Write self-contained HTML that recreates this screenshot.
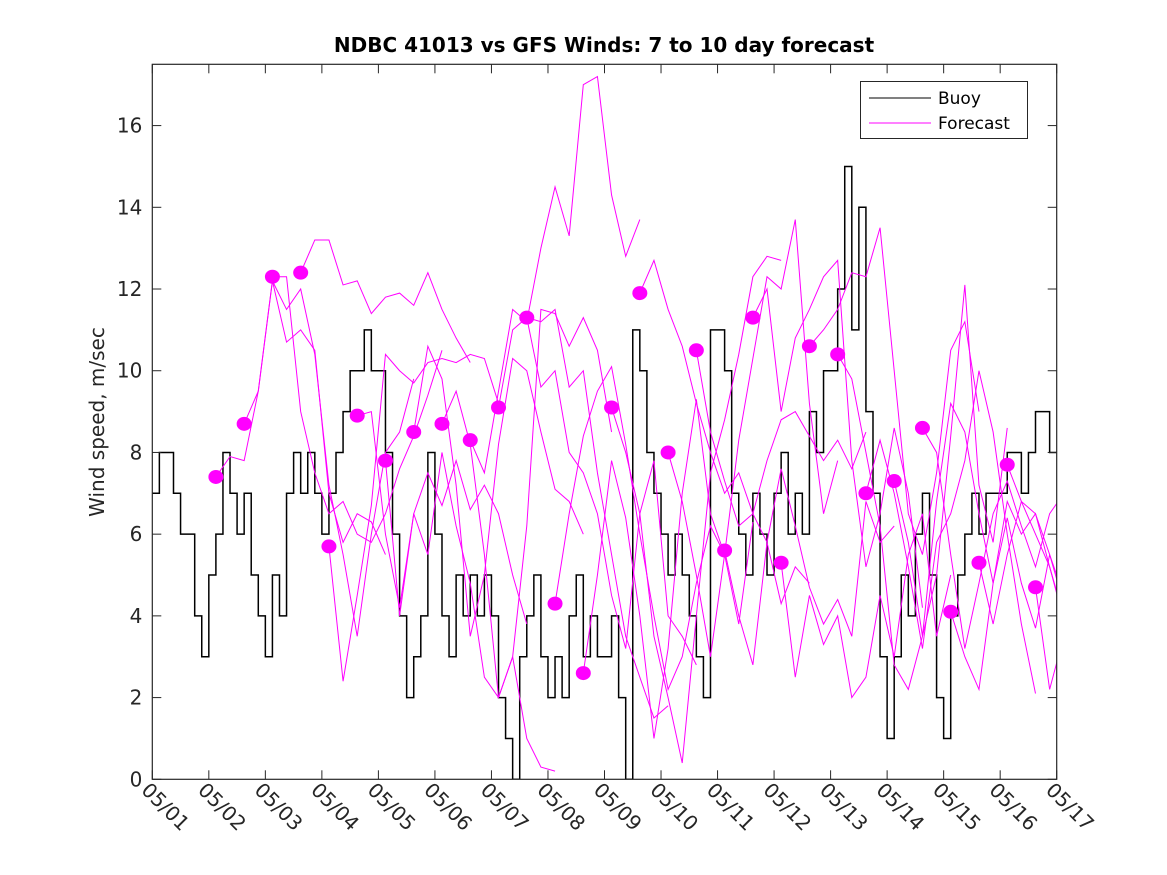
<!DOCTYPE html>
<html><head><meta charset="utf-8"><style>
body{margin:0;background:#fff;}
svg{display:block;font-family:"DejaVu Sans","Liberation Sans",sans-serif;}
</style></head><body>
<svg id="chart" width="1167" height="875">
<rect width="1167" height="875" fill="#fff"/>
<text x="604" y="52" text-anchor="middle" font-weight="bold" font-size="20" fill="#000">NDBC 41013 vs GFS Winds: 7 to 10 day forecast</text>
<text transform="translate(104,422) rotate(-90)" text-anchor="middle" font-size="20" fill="#262626">Wind speed, m/sec</text>
<g id="plot"></g>
<g id="axes"></g>
<g>
<rect x="860.5" y="81.5" width="167" height="57" fill="#fff" stroke="#262626" stroke-width="1"/>
<line x1="869" y1="98" x2="931" y2="98" stroke="#000"/>
<text x="938" y="104" font-size="17" fill="#000">Buoy</text>
<line x1="869" y1="123" x2="931" y2="123" stroke="#f0f"/>
<text x="938" y="129" font-size="17" fill="#000">Forecast</text>
</g>
</svg>
<script>
const yTicks=[0,2,4,6,8,10,12,14,16];
const xTickLabels=["05/01","05/02","05/03","05/04","05/05","05/06","05/07","05/08","05/09","05/10","05/11","05/12","05/13","05/14","05/15","05/16","05/17"];
// buoy wind speed, 3-hourly from 05/01 00Z
const buoy=[7,8,8,7,6,6,4,3, 5,6,8,7,6,7,5,4, 3,5,4,7,8,7,8,7, 6,7,8,9,10,10,11,10,
 10,8,6,4,2,3,4,8, 6,4,3,5,4,5,4,5, 4,2,1,0,3,4,5,3, 2,3,2,4,5,3,4,3,
 3,4,2,0,11,10,8,7, 6,5,6,5,4,3,2,11, 11,10,7,6,5,7,6,5, 7,8,6,7,6,9,8,10,
 10,12,15,11,14,9,7,3, 1,3,5,4,6,7,5,2, 1,4,5,6,7,6,7,7, 7,8,8,7,8,9,9,8, 8];
// forecast start days and 6-hourly values (lead 7-10 days)
const fcStart=[1.125,1.625,2.125,2.625,3.125,3.625,4.125,4.625,5.125,5.625,6.125,6.625,7.125,7.625,8.125,8.625,9.125,9.625,10.125,10.625,11.125,11.625,12.125,12.625,13.125,13.625,14.125,14.625,15.125,15.625];
const fcValues=[
[7.4,7.9,7.8,9.5,12.2,10.7,11.0,10.5,7.0,5.8,6.5,6.3,5.5],
[8.7,9.5,12.2,11.5,12.0,10.4,7.2,5.5,3.5,6.0,8.0,8.5,9.8],
[12.3,12.3,9.0,7.5,6.5,6.8,6.0,5.8,6.5,7.6,8.4,9.4,10.5],
[12.4,13.2,13.2,12.1,12.2,11.4,11.8,11.9,11.6,12.4,11.5,10.8,10.2],
[5.7,2.4,4.5,6.7,10.4,10.0,9.7,10.2,10.3,10.2,10.4,10.3,9.2],
[8.9,9.0,6.0,4.2,6.5,7.5,6.7,7.8,6.6,7.2,6.5,5.0,3.8],
[7.8,4.0,6.5,5.5,8.0,6.2,4.8,2.5,2.0,3.0,1.0,0.3,0.2],
[8.5,10.6,9.8,7.2,3.5,5.0,8.2,10.3,10.0,8.5,7.1,6.8,6.0],
[8.7,9.5,8.2,5.5,2.0,3.0,6.2,11.5,11.4,10.6,11.3,10.5,8.5],
[8.3,7.5,9.5,11.5,11.2,13.0,14.5,13.3,17.0,17.2,14.3,12.8,13.7],
[9.1,11.0,11.3,11.2,11.5,9.6,10.0,7.5,5.5,3.5,2.5,1.5,1.8],
[11.3,9.6,10.0,8.0,7.5,6.5,4.5,3.2,6.5,7.8,4.0,3.5,2.8],
[4.3,6.5,8.4,9.5,10.1,8.2,6.0,4.0,2.2,3.0,4.8,6.2,5.5],
[2.6,5.0,7.8,6.4,4.0,1.0,3.2,7.0,9.3,6.5,5.5,3.8,6.3],
[9.1,8.0,6.5,3.5,2.0,0.4,4.0,7.5,8.8,10.4,12.3,12.8,12.7],
[11.9,12.7,11.5,10.6,9.2,8.0,7.0,7.5,6.5,5.8,4.3,5.2,4.8],
[8.0,6.8,5.0,3.0,5.5,8.3,10.3,12.3,12.0,13.7,9.2,6.5,7.8],
[10.5,8.5,7.3,6.2,6.5,7.8,8.8,9.0,8.4,7.8,8.3,7.6,8.5],
[5.6,4.0,2.8,5.8,7.6,6.2,4.7,3.8,4.4,3.5,6.8,5.8,6.2],
[11.3,12.0,9.0,10.8,11.5,12.3,12.7,7.8,5.2,6.5,8.6,7.0,4.2],
[5.3,2.5,4.5,3.3,4.0,2.0,2.5,4.5,3.0,5.5,6.5,3.5,5.0],
[10.6,11.0,11.5,12.4,12.3,13.5,10.0,6.5,5.5,7.5,10.5,11.2,9.0],
[10.4,9.8,8.0,6.2,2.8,2.2,3.5,5.0,8.4,12.1,7.2,5.8,8.6],
[7.0,8.3,7.0,5.2,3.2,5.8,6.5,7.8,10.0,8.5,6.0,3.8,2.1],
[7.3,5.8,3.5,6.8,9.2,8.5,6.5,4.8,6.4,4.8,3.7,5.5,4.3],
[8.6,8.0,5.5,3.2,4.8,6.5,7.3,6.2,5.2,6.5,7.0,5.5,4.0],
[4.1,3.0,2.2,4.8,6.8,6.0,6.5,5.2,3.9,5.8,6.8,6.0,5.5],
[5.3,3.8,5.5,6.8,6.0,5.2,4.0,5.8,7.0,6.2,5.5,5.8,6.0],
[7.7,6.8,6.5,5.5,4.5,6.2,7.0,7.3,7.0,6.8,7.5,7.9,7.5],
[4.7,2.2,3.5,4.8,6.5,5.0,3.2,1.2,2.0,1.2,3.8,5.0,6.3]
];
const X0=152.3,X1=1056.7,Y0=779.3,Y1=64.3,XMAX=16,YMAX=17.5;
const xs=d=>X0+(X1-X0)*d/XMAX;
const ys=v=>Y0-(Y0-Y1)*v/YMAX;
const NS="http://www.w3.org/2000/svg";
const plot=document.getElementById('plot'),axes=document.getElementById('axes');
function mk(tag,attrs,parent){const e=document.createElementNS(NS,tag);for(const k in attrs)e.setAttribute(k,attrs[k]);parent.appendChild(e);return e;}
const defs=mk('defs',{},plot);const cp=mk('clipPath',{id:'clip'},defs);
mk('rect',{x:X0,y:Y1,width:X1-X0,height:Y0-Y1},cp);
const g=mk('g',{'clip-path':'url(#clip)'},plot);
let d='';
buoy.forEach((v,i)=>{const x=xs(i/8),y=ys(v);if(i===0)d+=`M${x},${y}`;else d+=`H${x}V${y}`;});
const bl=mk('path',{d:d,fill:'none',stroke:'#000','stroke-width':1.5},g);


fcValues.forEach((vals,k)=>{
  const s=fcStart[k];
  const pts=vals.map((v,j)=>xs(s+j*0.25)+','+ys(v)).join(' ');
  const pl=mk('polyline',{points:pts,fill:'none',stroke:'#f0f','stroke-width':1},g);
  
  
});
fcValues.forEach((vals,k)=>{
  const c=mk('ellipse',{cx:xs(fcStart[k]),cy:ys(vals[0]),rx:7.5,ry:7,fill:'#f0f'},plot);
  
  
});
const fr=mk('rect',{x:X0,y:Y1,width:X1-X0,height:Y0-Y1,fill:'none',stroke:'#262626','stroke-width':1.2},axes);


yTicks.forEach(v=>{
  const y=ys(v);
  mk('line',{x1:X0,y1:y,x2:X0+9,y2:y,stroke:'#262626'},axes);
  mk('line',{x1:X1,y1:y,x2:X1-9,y2:y,stroke:'#262626'},axes);
  const t=mk('text',{x:X0-10,y:y+7,'text-anchor':'end','font-size':20,fill:'#262626'},axes);
  t.textContent=v;
  
  
});
xTickLabels.forEach((lab,i)=>{
  const x=xs(i);
  mk('line',{x1:x,y1:Y0,x2:x,y2:Y0-9,stroke:'#262626'},axes);
  mk('line',{x1:x,y1:Y1,x2:x,y2:Y1+9,stroke:'#262626'},axes);
  const t=mk('text',{transform:`translate(${x-12},${Y0+12}) rotate(45)`,'font-size':20,fill:'#262626'},axes);
  t.textContent=lab;
  
  
});
</script>
</body></html>
